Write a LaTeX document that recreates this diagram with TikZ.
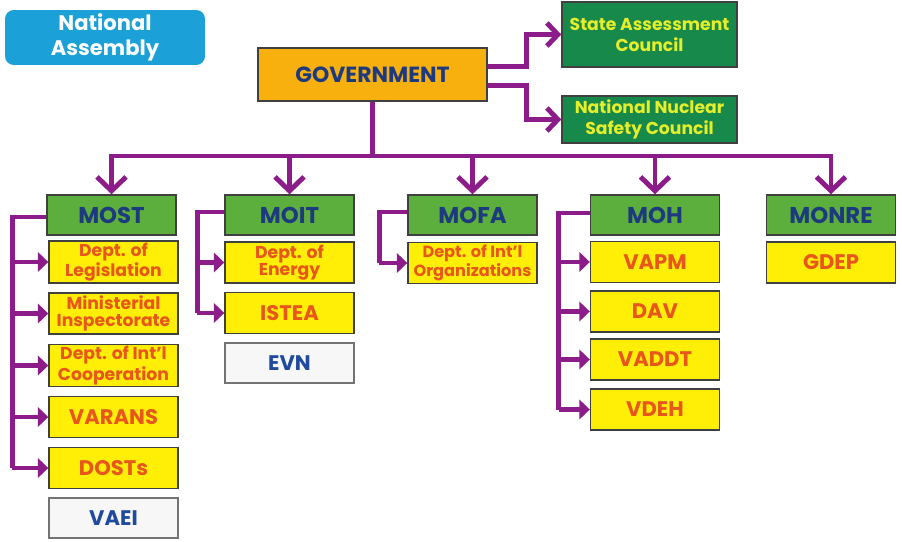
\documentclass[tikz,border=0pt]{standalone}
\usepackage{fontspec}
\setmainfont{Poppins}
\usetikzlibrary{arrows.meta,calc,positioning}
\definecolor{purp}{HTML}{8C1C8A}
\definecolor{nablue}{HTML}{1BA0D7}
\definecolor{govorange}{HTML}{F8B00F}
\definecolor{cgreen}{HTML}{17894B}
\definecolor{cyellow}{HTML}{E4EE2A}
\definecolor{mgreen}{HTML}{5CAF3C}
\definecolor{navy}{HTML}{1E3A7E}
\definecolor{dyellow}{HTML}{FFEE05}
\definecolor{dred}{HTML}{E8561B}
\definecolor{ablue}{HTML}{1F4A9E}

\tikzset{
  box/.style={draw=black!75, line width=0.8pt, align=center, inner sep=1pt},
  ministry/.style={box, fill=mgreen, text=navy, minimum width=2.58cm, minimum height=0.8cm,
    font=\bfseries\fontsize{13}{14}\selectfont},
  dept/.style={box, fill=dyellow, text=dred, minimum width=2.58cm, minimum height=0.82cm,
    font=\bfseries\fontsize{12}{13}\selectfont},
  twoline/.style={font=\bfseries\fontsize{9.8}{9.9}\selectfont},
  agency/.style={box, draw=black!55, fill=black!3, text=ablue, minimum width=2.58cm, minimum height=0.8cm,
    font=\bfseries\fontsize{12}{13}\selectfont},
  council/.style={box, fill=cgreen, text=cyellow, minimum width=3.5cm,
    font=\bfseries\fontsize{9.8}{12}\selectfont},
  link/.style={purp, line width=2.8pt},
  down/.style={link, -{Straight Barb[length=2.8mm,width=5.8mm,line width=2.8pt]}},
  side/.style={link, -{Straight Barb[length=2.2mm,width=4.6mm,line width=2.8pt]}},
  feed/.style={purp, line width=2.6pt, -{Triangle[length=2.1mm,width=3.9mm]}}
}

\begin{document}
\begin{tikzpicture}[x=0.02cm, y=-0.02cm]
\useasboundingbox (0,0) rectangle (902,541);

\node[box, draw=none, rounded corners=5pt, fill=nablue, text=white, minimum width=4cm, minimum height=1.1cm,
  font=\bfseries\fontsize{12}{14.5}\selectfont] (na) at (105,37.5) {National\\Assembly};
\node[box, fill=govorange, text=navy, minimum width=4.58cm, minimum height=1.06cm,
  font=\bfseries\fontsize{12.5}{14}\selectfont] (gov) at (372.5,74.5) {GOVERNMENT};
\node[council, minimum height=1.3cm] (sac) at (649.5,34.5) {State Assessment\\Council};
\node[council, minimum height=0.94cm] (nnsc) at (649.5,119.5) {National Nuclear\\Safety Council};

% ministries
\node[ministry] (most) at (111.5,215) {MOST};
\node[ministry] (moit) at (289.5,215) {MOIT};
\node[ministry] (mofa) at (472.5,215) {MOFA};
\node[ministry] (moh) at (655,215) {MOH};
\node[ministry] (monre) at (831,215) {MONRE};

% MOST
\node[dept, twoline] (leg) at (113.5,262) {Dept. of\\Legislation};
\node[dept, twoline] (insp) at (113.5,313.5) {Ministerial\\Inspectorate};
\node[dept, twoline] (coop) at (113.5,365.5) {Dept. of Int'l\\Cooperation};
\node[dept] (varans) at (113.5,417) {VARANS};
\node[dept] (dosts) at (113.5,468) {DOSTs};
\node[agency] (vaei) at (113.5,518) {VAEI};

% MOIT
\node[dept, twoline] (energy) at (289.5,262.5) {Dept. of\\Energy};
\node[dept] (istea) at (289.5,313) {ISTEA};
\node[agency] (evn) at (289.5,363) {EVN};

% MOFA
\node[dept, twoline, font=\bfseries\fontsize{9.2}{9.6}\selectfont] (intorg) at (472.5,263) {Dept. of Int'l\\Organizations};

% MOH
\node[dept] (vapm) at (655,262) {VAPM};
\node[dept] (dav) at (655,311.5) {DAV};
\node[dept] (vaddt) at (655,359.5) {VADDT};
\node[dept] (vdeh) at (655,409.5) {VDEH};

% MONRE
\node[dept] (gdep) at (831,262.5) {GDEP};

% government links
\coordinate (bus) at (gov.south |- 0,156);
\draw[link] (gov.south) -- (bus);
\foreach \m in {most,moit,mofa,moh,monre}
  \draw[down] (bus) -| (\m.north);
\draw[side] ($(gov.east)+(0,-8)$) -- ++(39,0) |- (sac.west);
\draw[side] ($(gov.east)+(0,11)$) -- ++(39,0) |- (nnsc.west);

% brackets
\draw[link] ($(most.west)+(0,2)$) -- ++(-34,0) coordinate (mo1) -- (mo1 |- dosts.west);
\foreach \d in {leg,insp,coop,varans,dosts}
  \draw[feed] (mo1 |- \d.west) -- (\d.west);

\draw[link] ($(moit.west)+(0,-3)$) -- ++(-27,0) coordinate (mo2) -- (mo2 |- istea.west);
\foreach \d in {energy,istea}
  \draw[feed] (mo2 |- \d.west) -- (\d.west);

\draw[link] ($(mofa.west)+(0,-3)$) -- ++(-28,0) coordinate (mo3) -- (mo3 |- intorg.west);
\draw[feed] (mo3 |- intorg.west) -- (intorg.west);

\draw[link] ($(moh.west)+(0,-2)$) -- ++(-31,0) coordinate (mo4) -- (mo4 |- vdeh.west);
\foreach \d in {vapm,dav,vaddt,vdeh}
  \draw[feed] (mo4 |- \d.west) -- (\d.west);
\end{tikzpicture}
\end{document}
